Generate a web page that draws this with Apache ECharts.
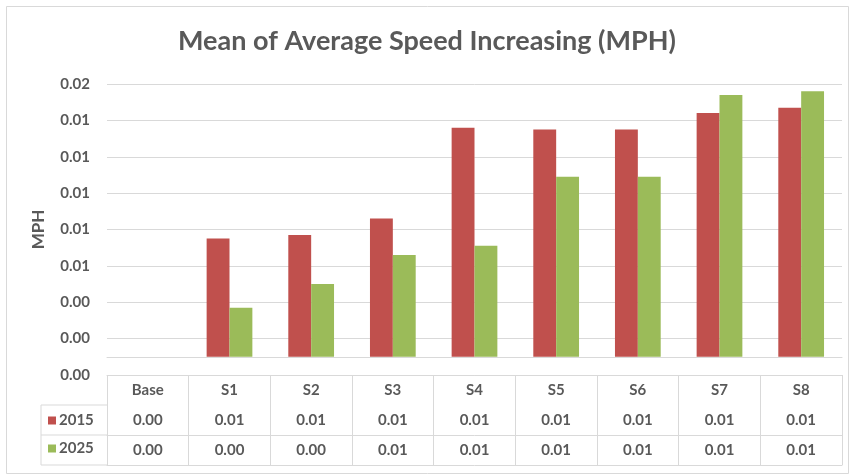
<!DOCTYPE html>
<html>
<head>
<meta charset="utf-8">
<script src="https://cdn.jsdelivr.net/npm/echarts@6/dist/echarts.min.js"></script>
<style>
  html, body { margin: 0; padding: 0; background: #fff; }
  #chart { width: 854px; height: 476px; }
</style>
</head>
<body>
<div id="chart"></div>
<script>
// categories and values (MPH)
var categories = ['Base', 'S1', 'S2', 'S3', 'S4', 'S5', 'S6', 'S7', 'S8'];
var years = ['2015', '2025'];
var speed2015 = [0, 0.0065, 0.0067, 0.0076, 0.0126, 0.0125, 0.0125, 0.0134, 0.0137];
var speed2025 = [0, 0.0027, 0.0040, 0.0056, 0.0061, 0.0099, 0.0099, 0.0144, 0.0146];

// value axis: -0.001 .. 0.015, a tick every 0.002
var axisMin = -0.001;
var axisMax = 0.015;
var axisStep = 0.002;

var colors = ['#C0504D', '#9BBB59'];
var textGray = '#595959';
var lineGray = '#D9D9D9';
var fontName = 'Lato';

// Excel style "0.00" (round half up, no negative zero)
function fmt2(v) {
    var r = Math.round(Math.round(v * 1e6) / 1e4) / 100;
    if (r === 0) {
        r = 0;
    }
    return r.toFixed(2);
}

function tableAxis(offset, values) {
    return {
        type: 'category',
        data: categories,
        position: 'bottom',
        offset: offset,
        axisLine: { show: true, lineStyle: { color: lineGray, width: 1 } },
        axisTick: { show: false },
        axisLabel: {
            show: values !== null,
            margin: 8,
            fontSize: 15,
            fontWeight: 'bold',
            fontFamily: fontName,
            color: textGray,
            formatter: function (val, idx) {
                return values ? fmt2(values[idx]) : '';
            }
        }
    };
}

var chart = echarts.init(document.getElementById('chart'));

var option = {
    backgroundColor: '#fff',
    animation: false,
    title: {
        text: 'Mean of Average Speed Increasing (MPH)',
        left: 'center',
        top: 23,
        textStyle: { fontSize: 27, fontWeight: 'bold', color: textGray, fontFamily: fontName }
    },
    legend: {
        orient: 'vertical',
        left: 48,
        top: 413,
        padding: 0,
        itemWidth: 8,
        itemHeight: 8,
        itemGap: 13,
        icon: 'rect',
        data: years,
        textStyle: { fontSize: 15, fontWeight: 'bold', color: textGray, fontFamily: fontName, padding: [0, 0, 0, -2] }
    },
    grid: { left: 107, right: 12, top: 84, bottom: 101 },
    xAxis: [
        {
            type: 'category',
            data: categories,
            position: 'bottom',
            axisLine: { show: true, onZero: false, lineStyle: { color: lineGray, width: 1 } },
            axisTick: { show: true, length: 90, lineStyle: { color: lineGray, width: 1 } },
            axisLabel: { margin: 8, fontSize: 15, fontWeight: 'bold', fontFamily: fontName, color: textGray }
        },
        tableAxis(30, speed2015),
        tableAxis(60, speed2025),
        tableAxis(90, null)
    ],
    yAxis: {
        type: 'value',
        min: axisMin,
        max: axisMax,
        interval: axisStep,
        name: 'MPH',
        nameLocation: 'middle',
        nameGap: 60,
        nameTextStyle: { fontSize: 17, fontWeight: 'bold', color: textGray, fontFamily: fontName },
        axisLine: { show: false },
        axisTick: { show: false },
        axisLabel: {
            margin: 17,
            fontSize: 15,
            fontWeight: 'bold',
            fontFamily: fontName,
            color: textGray,
            formatter: fmt2
        },
        splitLine: { lineStyle: { color: lineGray, width: 1 } }
    },
    series: [
        {
            name: years[0],
            type: 'bar',
            barWidth: '28%',
            barGap: '0%',
            itemStyle: { color: colors[0] },
            data: speed2015,
            markLine: {
                silent: true,
                symbol: 'none',
                label: { show: false },
                lineStyle: { color: lineGray, type: 'solid', width: 1 },
                data: [{ yAxis: 0 }]
            }
        },
        {
            name: years[1],
            type: 'bar',
            barWidth: '28%',
            barGap: '0%',
            itemStyle: { color: colors[1] },
            data: speed2025
        }
    ],
    graphic: [
        { type: 'rect', z: -10, shape: { x: 6.5, y: 6.5, width: 842, height: 467 }, style: { fill: 'none', stroke: lineGray, lineWidth: 1 } },
        { type: 'line', shape: { x1: 41, y1: 405, x2: 107, y2: 405 }, style: { stroke: lineGray, lineWidth: 1 } },
        { type: 'line', shape: { x1: 41, y1: 435, x2: 107, y2: 435 }, style: { stroke: lineGray, lineWidth: 1 } },
        { type: 'line', shape: { x1: 41, y1: 465, x2: 107, y2: 465 }, style: { stroke: lineGray, lineWidth: 1 } },
        { type: 'line', shape: { x1: 41, y1: 405, x2: 41, y2: 465 }, style: { stroke: lineGray, lineWidth: 1 } }
    ]
};

chart.setOption(option);
</script>
</body>
</html>
